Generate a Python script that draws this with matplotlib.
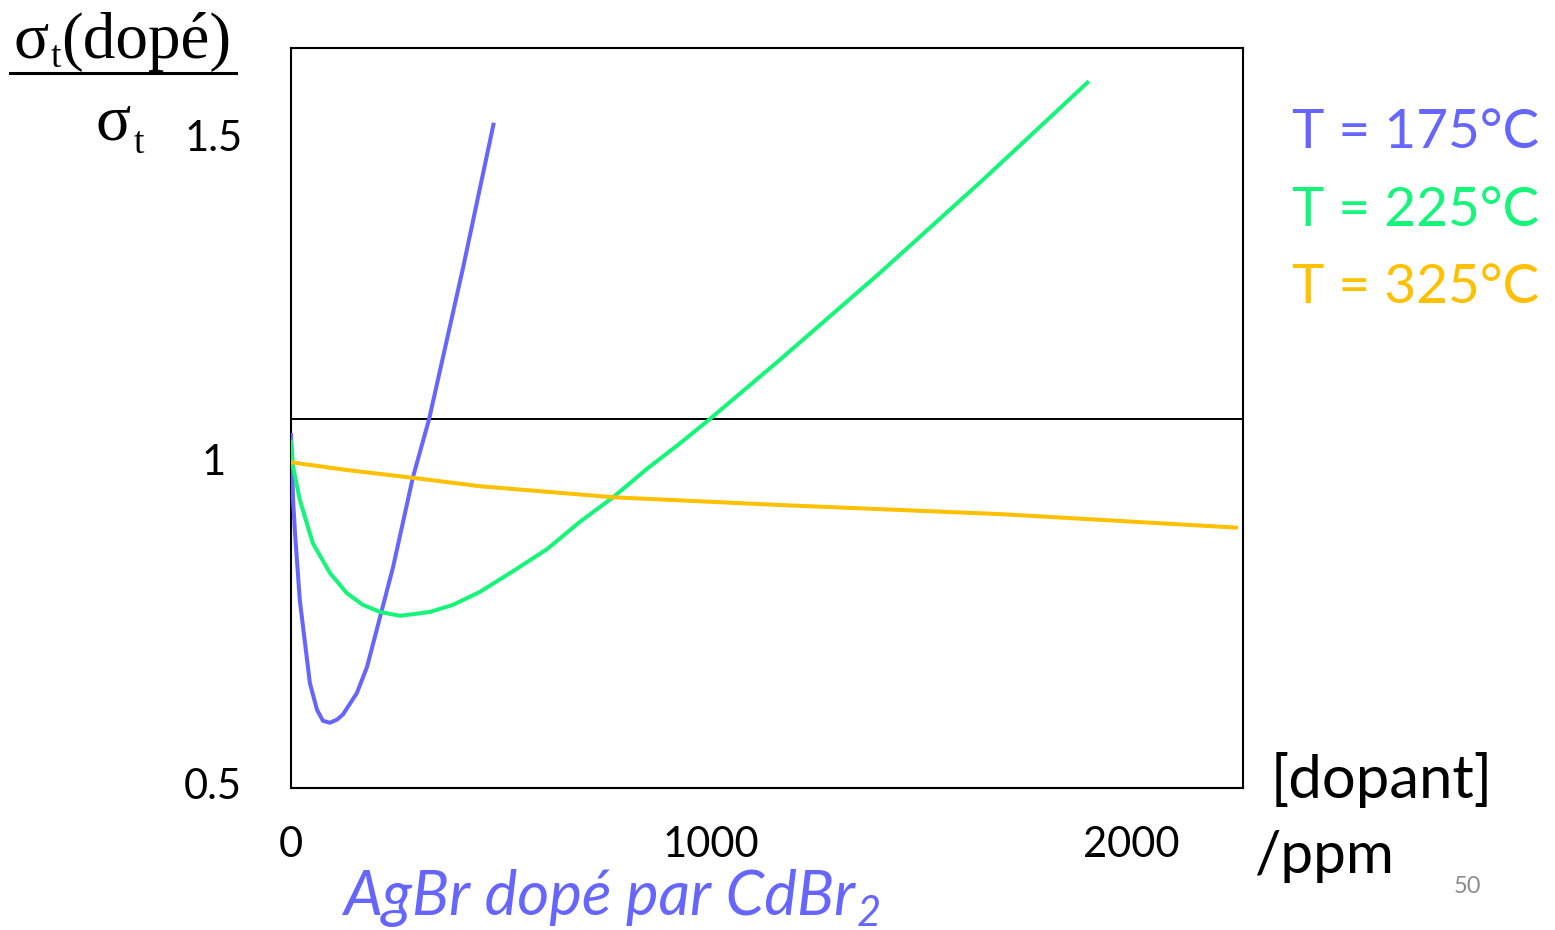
"""AgBr dopé par CdBr2 : conductivité relative en fonction de la concentration en dopant."""
import matplotlib
matplotlib.use('Agg')
import matplotlib.pyplot as plt

# valeurs (ppm, sigma_t(dopé)/sigma_t)
ppm_175 = [0, 5, 9.5, 21, 45, 62, 76, 93, 110, 124, 157, 181, 212, 243, 290, 329, 410, 483]
rat_175 = [1.040, 0.937, 0.886, 0.782, 0.654, 0.613, 0.596, 0.593, 0.598, 0.606, 0.639,
           0.679, 0.756, 0.833, 0.971, 1.062, 1.296, 1.519]

ppm_225 = [0, 5, 21, 52, 93, 133, 171, 212, 260, 331, 386, 450, 529, 610, 688, 767, 848,
           926, 998, 1164, 1402, 1648, 1900]
rat_225 = [1.030, 0.988, 0.937, 0.870, 0.824, 0.793, 0.775, 0.764, 0.758, 0.764, 0.775,
           0.795, 0.827, 0.861, 0.903, 0.941, 0.985, 1.024, 1.062, 1.153, 1.287, 1.431, 1.583]

ppm_325 = [0, 133, 290, 450, 767, 1164, 1688, 2255]
rat_325 = [0.995, 0.983, 0.971, 0.958, 0.941, 0.929, 0.915, 0.894]

ref_level = 1.062
yticks = [0.5, 1, 1.5]
ytick_labels = ['0.5', '1', '1.5']
xticks = [0, 1000, 2000]
xtick_labels = ['0', '1000', '2000']
temps = ['T = 175°C', 'T = 225°C', 'T = 325°C']

BLUE = '#6666FF'
GREEN = '#14F57A'
GOLD = '#FFC000'
colors = [BLUE, GREEN, GOLD]

W, H = 1555, 930
fig = plt.figure(figsize=(W / 100, H / 100), dpi=100)
plt.rcParams['font.family'] = ['Lato', 'DejaVu Sans']

# axes box in pixels: x 291..1243, y 48..788
ax = fig.add_axes([291 / W, 1 - 788 / H, (1243 - 291) / W, (788 - 48) / H])
ax.set_xlim(0, 2267)
ax.set_ylim(0.4923, 1.6343)

for x, y, c in zip([ppm_175, ppm_225, ppm_325], [rat_175, rat_225, rat_325], colors):
    ax.plot(x, y, color=c, lw=2.9, solid_joinstyle='round', solid_capstyle='butt', zorder=3)

ax.axhline(ref_level, color='black', lw=1.4, zorder=2)

for s in ax.spines.values():
    s.set_linewidth(1.5)

ax.set_yticks(yticks)
ax.set_yticklabels(ytick_labels, fontsize=30, ha='center')
ax.set_xticks(xticks)
ax.set_xticklabels(xtick_labels, fontsize=30)
ax.tick_params(axis='y', length=0, pad=56)
ax.tick_params(axis='x', length=0, pad=27)


def px(x, y):
    return x / W, 1 - y / H


# y label as a fraction, serif
serif = 'Liberation Serif'
fig.text(*px(14, 58), 'σ', family=serif, fontsize=47, va='baseline', ha='left')
fig.text(*px(51, 67), 't', family=serif, fontsize=27, va='baseline', ha='left')
fig.text(*px(61, 58), '(dopé)', family=serif, fontsize=47, va='baseline', ha='left')
fig.add_artist(plt.Line2D([10 / W, 236 / W], [1 - 73 / H, 1 - 73 / H], color='black', lw=2.2))
fig.text(*px(96, 140), 'σ', family=serif, fontsize=47, va='baseline', ha='left')
fig.text(*px(134, 153), 't', family=serif, fontsize=27, va='baseline', ha='left')

# temperature labels
for i, (t, c) in enumerate(zip(temps, colors)):
    fig.text(*px(1292, 148 + i * 77.5), t, color=c, fontsize=39.5, va='baseline', ha='left')

# x axis label
fig.text(*px(1271, 798), '[dopant]', fontsize=43, va='baseline', ha='left')
fig.text(*px(1254, 873), '/ppm', fontsize=42, va='baseline', ha='left')

fig.text(*px(343, 915), 'AgBr dopé par CdBr', color=BLUE, fontsize=44.5, style='italic',
         va='baseline', ha='left')
fig.text(*px(857, 926), '2', color=BLUE, fontsize=30, style='italic',
         va='baseline', ha='left')

fig.text(*px(1467, 893), '50', color='#8C8C8C', fontsize=17, va='baseline', ha='center')

plt.savefig('out.png', dpi=100)
plt.close()
